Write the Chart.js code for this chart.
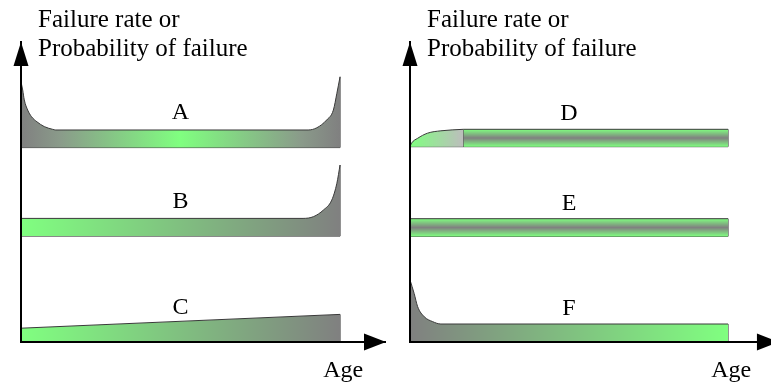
<!DOCTYPE html>
<html>
<head>
<meta charset="utf-8">
<script src="https://cdn.jsdelivr.net/npm/chart.js@4"></script>
<style>
html,body{margin:0;padding:0;background:#fff;}
#wrap{position:relative;width:771px;height:385px;overflow:hidden;background:#fff;}
.pane{position:absolute;top:0;width:386px;height:385px;}
</style>
</head>
<body>
<div id="wrap">
  <div class="pane" style="left:0"><canvas id="leftChart"></canvas></div>
  <div class="pane" style="left:385px"><canvas id="rightChart"></canvas></div>
</div>
<script>
// ---------- text ----------
const axisTitleLines = ['Failure rate or', 'Probability of failure'];
const xAxisLabel = 'Age';
const leftPatternNames = ['A', 'B', 'C'];
const rightPatternNames = ['D', 'E', 'F'];
const patternLabelAge = 50;
const leftLabelLevels = [74.3, 44.6, 9.5];
const rightLabelLevels = [74, 44, 9];

// ---------- pattern A (bathtub) ----------
const ageA  = [0, 0.53, 1.03, 2.1, 3.3, 5, 7.3, 9.9, 10.9, 90, 92.7, 95.8, 97.9, 99, 100];
const rateA = [86.7, 84, 80.7, 77.3, 75.1, 73.4, 71.8, 70.9, 70.67, 70.67, 71.4, 74, 77.3, 82.9, 88.4];
const baseA = 64.8;

// ---------- pattern B (wear-out) ----------
const ageB  = [0, 88.4, 91.7, 94.8, 97.4, 99, 100];
const rateB = [41.2, 41.2, 41.8, 44, 47.3, 52.9, 59];
const baseB = 35.3;

// ---------- pattern C (slow rise) ----------
const ageC  = [0, 100];
const rateC = [4.6, 9.2];
const baseC = 0;

// ---------- pattern D (initial rise, then flat) ----------
const ageD  = [0, 0.5, 2.4, 5.5, 9.7, 16.8];
const rateD = [65.1, 66.3, 67.9, 69.6, 70.4, 70.9];
const barAgeD = [16.8, 100];
const topD  = 70.9;
const baseD = 65.1;

// ---------- pattern E (random) ----------
const ageE  = [0, 100];
const topE  = 41.1;
const baseE = 35.2;

// ---------- pattern F (infant mortality) ----------
const ageF  = [0, 1.3, 2.4, 4.5, 7.1, 9.7, 100];
const rateF = [20.7, 16.2, 11.8, 8.4, 6.8, 6, 6];
const baseF = 0;

// ---------- styles ----------
const GREEN = '#80ff80', GRAY = '#808080', LIGHTGRAY = '#bdbdbd', LINE = '#3a3a3a';
const SERIF = '"Liberation Serif", "Times New Roman", serif';

function hGrad(chart, from, to, stops) {
  const x = chart.scales && chart.scales.x;
  if (!x || !chart.chartArea) return GRAY;
  const g = chart.ctx.createLinearGradient(x.getPixelForValue(from), 0, x.getPixelForValue(to), 0);
  stops.forEach(s => g.addColorStop(s[0], s[1]));
  return g;
}
function vGrad(chart, low, high, stops) {
  const y = chart.scales && chart.scales.y;
  if (!y || !chart.chartArea) return GRAY;
  const g = chart.ctx.createLinearGradient(0, y.getPixelForValue(high), 0, y.getPixelForValue(low));
  stops.forEach(s => g.addColorStop(s[0], s[1]));
  return g;
}
const pts = (xs, ys) => xs.map((v, i) => ({x: v, y: ys[i]}));
const flat = (xs, v) => xs.map(() => v);
function area(xs, ys, color) {
  return {data: pts(xs, ys), borderColor: LINE, borderWidth: 1, pointRadius: 0,
          cubicInterpolationMode: 'monotone', fill: '+1', backgroundColor: color};
}
function edge(xs, ys) {
  return {data: pts(xs, ys), borderColor: LINE, borderWidth: 1, pointRadius: 0, fill: false};
}
const greenToGray = c => hGrad(c.chart, 0, 100, [[0, GREEN], [1, GRAY]]);
const grayToGreen = c => hGrad(c.chart, 0, 100, [[0, GRAY], [1, GREEN]]);
const grayGreenGray = c => hGrad(c.chart, 0, 100, [[0, GRAY], [0.12, '#8a9a8a'], [0.5, GREEN], [0.88, '#8a9a8a'], [1, GRAY]]);
const bandD = c => vGrad(c.chart, baseD, topD, [[0, GREEN], [0.5, GRAY], [1, GREEN]]);
const bandE = c => vGrad(c.chart, baseE, topE, [[0, GREEN], [0.5, GRAY], [1, GREEN]]);
const riseD = c => hGrad(c.chart, 0, barAgeD[0], [[0, GREEN], [1, LIGHTGRAY]]);

const leftDatasets = [
  area(ageA, rateA, grayGreenGray),
  edge([0, 100], [baseA, baseA]),
  edge([100, 100], [baseA, rateA[rateA.length - 1]]),
  area(ageB, rateB, greenToGray),
  edge([0, 100], [baseB, baseB]),
  edge([100, 100], [baseB, rateB[rateB.length - 1]]),
  area(ageC, rateC, greenToGray),
  edge([0, 100], [baseC, baseC]),
  edge([100, 100], [baseC, rateC[rateC.length - 1]])
];
const rightDatasets = [
  area(ageD, rateD, riseD),
  edge([0, barAgeD[0]], [baseD, baseD]),
  area(barAgeD, flat(barAgeD, topD), bandD),
  edge(barAgeD, flat(barAgeD, baseD)),
  edge([barAgeD[0], barAgeD[0]], [baseD, topD]),
  edge([100, 100], [baseD, topD]),
  area(ageE, flat(ageE, topE), bandE),
  edge(ageE, flat(ageE, baseE)),
  edge([100, 100], [baseE, topE]),
  area(ageF, rateF, grayToGreen),
  edge([0, 100], [baseF, baseF]),
  edge([100, 100], [baseF, rateF[rateF.length - 1]])
];

const deco = {
  id: 'deco',
  afterDraw(chart, _args, o) {
    const {ctx, chartArea: a, scales: {x, y}} = chart;
    ctx.save();
    ctx.fillStyle = '#000';
    const x0 = x.getPixelForValue(0);
    const y0 = y.getPixelForValue(0);
    // y-axis arrow head
    ctx.beginPath();
    ctx.moveTo(x0, a.top);
    ctx.lineTo(x0 - 7.5, a.top + 24);
    ctx.lineTo(x0 + 7.5, a.top + 24);
    ctx.closePath(); ctx.fill();
    // x-axis arrow head
    const tip = x.getPixelForValue(o.arrowTip);
    ctx.beginPath();
    ctx.moveTo(tip, y0);
    ctx.lineTo(tip - 22, y0 - 8.5);
    ctx.lineTo(tip - 22, y0 + 8.5);
    ctx.closePath(); ctx.fill();
    // axis title
    ctx.textBaseline = 'alphabetic';
    ctx.textAlign = 'left';
    ctx.font = '25px ' + SERIF;
    axisTitleLines.forEach((t, i) => ctx.fillText(t, x0 + 17, o.titleBaselines[i]));
    // pattern labels
    ctx.textAlign = 'center';
    ctx.font = '24px ' + SERIF;
    o.names.forEach((n, i) => ctx.fillText(n, x.getPixelForValue(patternLabelAge), y.getPixelForValue(o.levels[i])));
    // Age
    ctx.fillText(xAxisLabel, x.getPixelForValue(o.ageLabelAt), y0 + 35);
    ctx.restore();
  }
};

function makeChart(id, datasets, xMax, padLeft, names, levels, arrowTip) {
  return new Chart(document.getElementById(id), {
    type: 'line',
    data: {datasets},
    plugins: [deco],
    options: {
      responsive: true,
      maintainAspectRatio: false,
      animation: false,
      events: [],
      layout: {padding: {left: padLeft, right: 0, top: 42, bottom: 43}},
      plugins: {
        legend: {display: false},
        tooltip: {enabled: false},
        title: {display: false},
        deco: {arrowTip, names, levels, titleBaselines: [27, 56], ageLabelAt: 101}
      },
      scales: {
        x: {type: 'linear', min: 0, max: xMax,
            grid: {display: false, drawTicks: false}, ticks: {display: false},
            border: {display: true, color: '#000', width: 2, z: 1},
            afterFit(s) { s.height = 0; }},
        y: {type: 'linear', min: 0, max: 100,
            grid: {display: false, drawTicks: false}, ticks: {display: false},
            border: {display: true, color: '#000', width: 2, z: 1},
            afterFit(s) { s.width = 0; }}
      }
    }
  });
}

makeChart('leftChart', leftDatasets, 114.4, 21, leftPatternNames, leftLabelLevels, 114.4);
makeChart('rightChart', rightDatasets, 113.5, 25, rightPatternNames, rightLabelLevels, 116);
</script>
</body>
</html>
